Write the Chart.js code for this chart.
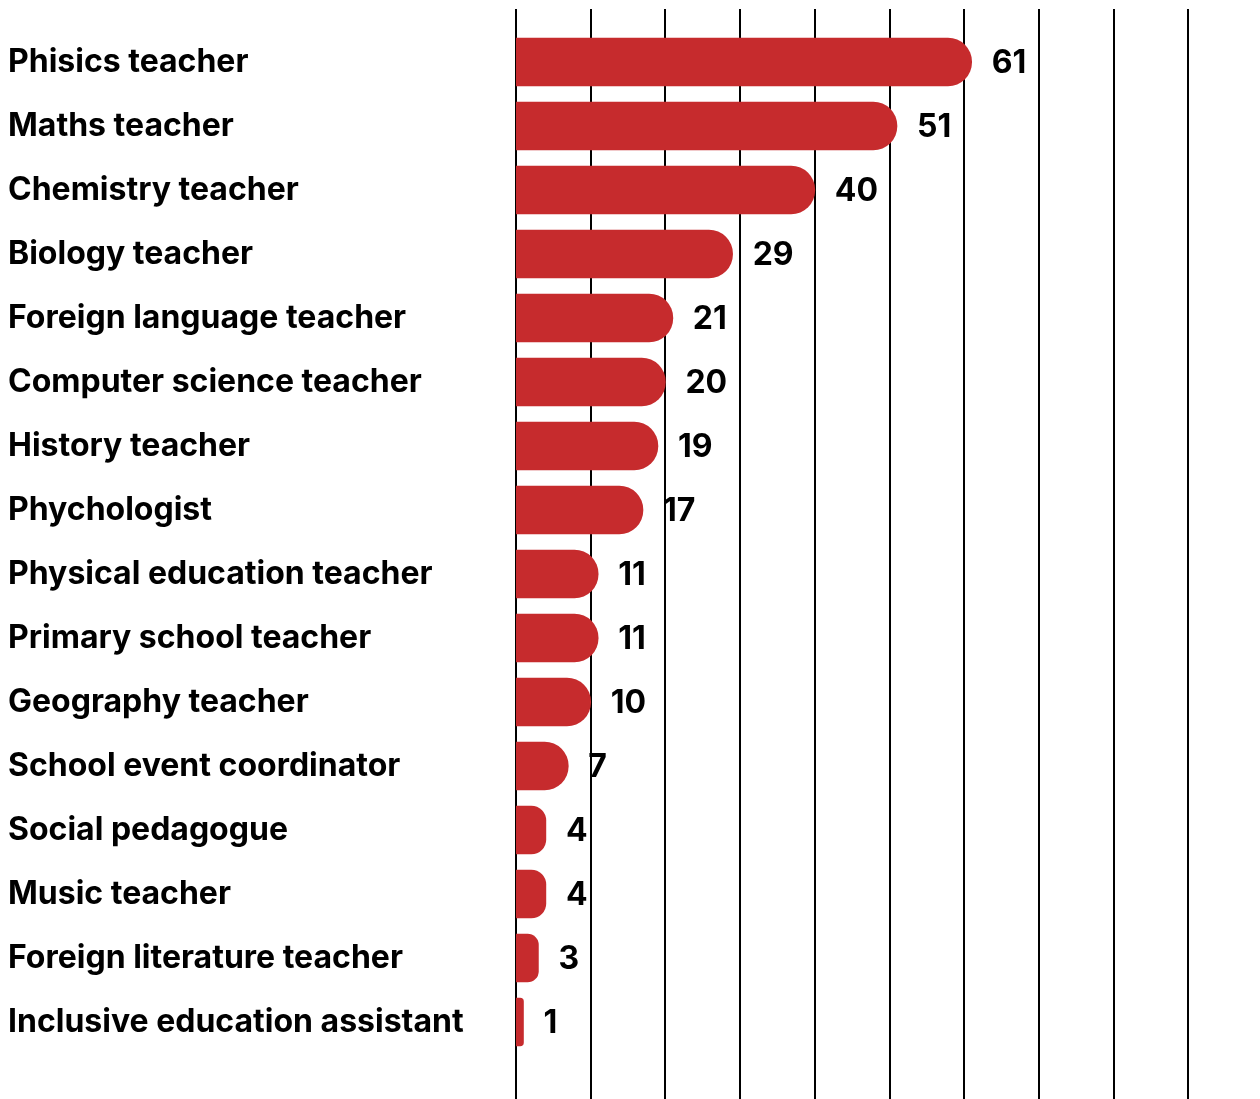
<!DOCTYPE html>
<html>
<head>
<meta charset="utf-8">
<script src="https://cdn.jsdelivr.net/npm/chart.js@4"></script>
<style>
  html, body { margin: 0; padding: 0; background: #fff; overflow: hidden; }
  #wrap { width: 1263px; height: 1099px; }
</style>
</head>
<body>
<div id="wrap"><canvas id="chart" width="1263" height="1099"></canvas></div>
<script>
  // ---- data ----
  const categories = [
    "Phisics teacher", "Maths teacher", "Chemistry teacher", "Biology teacher",
    "Foreign language teacher", "Computer science teacher", "History teacher", "Phychologist",
    "Physical education teacher", "Primary school teacher", "Geography teacher",
    "School event coordinator", "Social pedagogue", "Music teacher",
    "Foreign literature teacher", "Inclusive education assistant"
  ];
  const values = [61, 51, 40, 29, 21, 20, 19, 17, 11, 11, 10, 7, 4, 4, 3, 1];

  const RED = "#c62b2d";
  const FONT = "Inter, 'Noto Sans', sans-serif";

  // vertical grid lines, drawn behind the bars across the full height
  const fullGrid = {
    id: "fullGrid",
    beforeDatasetsDraw(chart) {
      const { ctx } = chart;
      const x = chart.scales.x;
      ctx.save();
      ctx.strokeStyle = "#000";
      ctx.lineWidth = 2;
      x.ticks.forEach((t) => {
        const px = Math.round(x.getPixelForValue(t.value));
        ctx.beginPath();
        ctx.moveTo(px, 9);
        ctx.lineTo(px, chart.height);
        ctx.stroke();
      });
      ctx.restore();
    },
  };

  // value labels right of each bar
  const valueLabels = {
    id: "valueLabels",
    afterDatasetsDraw(chart) {
      const { ctx } = chart;
      ctx.save();
      ctx.fillStyle = "#000";
      ctx.font = "700 32px " + FONT;
      ctx.textAlign = "left";
      ctx.textBaseline = "middle";
      chart.getDatasetMeta(0).data.forEach((bar, i) => {
        ctx.fillText(String(values[i]), bar.x + 20, bar.y + 1);
      });
      ctx.restore();
    },
  };

  new Chart(document.getElementById("chart").getContext("2d"), {
    type: "bar",
    data: {
      labels: categories,
      datasets: [{
        data: values,
        backgroundColor: RED,
        borderRadius: 24,
        borderSkipped: "start",
        barThickness: 48,
      }],
    },
    options: {
      indexAxis: "y",
      responsive: false,
      animation: false,
      devicePixelRatio: 1,
      layout: { padding: { left: 8, top: 30, bottom: 45, right: 0 } },
      plugins: { legend: { display: false }, tooltip: { enabled: false } },
      scales: {
        x: {
          display: false,
          min: 0,
          max: 100,
          ticks: { stepSize: 10 },
        },
        y: {
          grid: { display: false },
          border: { display: false },
          ticks: {
            color: "#000",
            font: { family: FONT, size: 32, weight: "700" },
            crossAlign: "far",
            padding: 0,
            autoSkip: false,
          },
          afterFit(scale) { scale.width = 508; },
        },
      },
    },
    plugins: [fullGrid, valueLabels],
  });
</script>
</body>
</html>
